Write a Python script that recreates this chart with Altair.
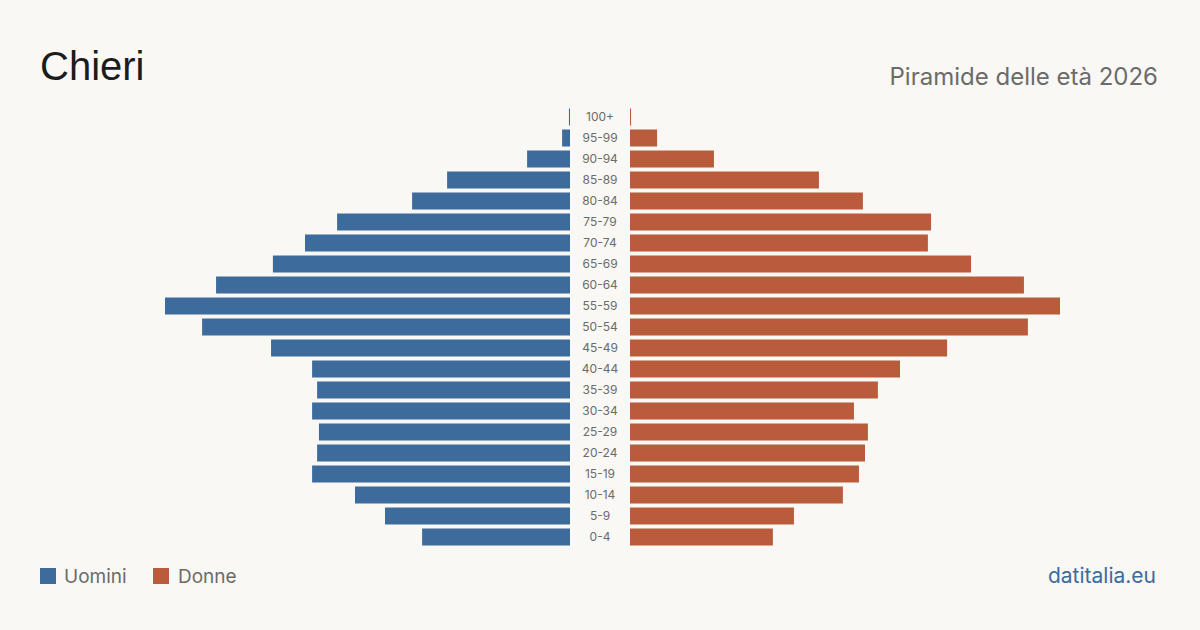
import altair as alt
import pandas as pd

# Age groups, oldest at the top
age_groups = ["100+", "95-99", "90-94", "85-89", "80-84", "75-79", "70-74",
              "65-69", "60-64", "55-59", "50-54", "45-49", "40-44", "35-39",
              "30-34", "25-29", "20-24", "15-19", "10-14", "5-9", "0-4"]

# Residents by age group, 2026
men = [4, 30, 163, 467, 600, 885, 1007, 1129, 1345, 1539, 1398, 1136,
       980, 961, 980, 954, 961, 980, 817, 703, 562]
women = [4, 103, 319, 718, 885, 1144, 1132, 1296, 1497, 1634, 1512, 1205,
         1026, 942, 851, 904, 893, 870, 809, 623, 543]

BLUE = "#3d6b9c"
ORANGE = "#b85c3c"
BG = "#f9f8f4"
FONT = "Inter"

df = pd.DataFrame({"age": age_groups, "men": men, "women": women})
df["men_neg"] = [-v for v in men]
df["zero"] = 0

D = 2280
x_scale = alt.Scale(domain=[-D, D], range=[0, 1200], nice=False, zero=False)
y_scale = alt.Scale(domain=age_groups, range=[106.5, 547.5], paddingInner=0.19, paddingOuter=0.095)

base = alt.Chart(df)

y_enc = alt.Y("age:N", scale=y_scale, axis=None, sort=age_groups)

left = base.mark_bar(color=BLUE, xOffset=-30, x2Offset=-30).encode(
    x=alt.X("men_neg:Q", scale=x_scale, axis=None),
    x2="zero:Q",
    y=y_enc,
)

right = base.mark_bar(color=ORANGE, xOffset=30, x2Offset=30).encode(
    x=alt.X("zero:Q", scale=x_scale, axis=None),
    x2="women:Q",
    y=y_enc,
)

labels = base.mark_text(font=FONT, fontSize=12, color="#6b6b6b", align="center", baseline="middle").encode(
    x=alt.X("zero:Q", scale=x_scale, axis=None),
    y=y_enc,
    text="age:N",
)

def label(text, x, y, size, color, align="left", font=FONT):
    return alt.Chart(pd.DataFrame({"t": [text]})).mark_text(
        font=font, fontSize=size, color=color, align=align, baseline="alphabetic"
    ).encode(x=alt.value(x), y=alt.value(y), text="t:N")

def swatch(x, y, color):
    return alt.Chart(pd.DataFrame({"a": [0]})).mark_square(size=256, color=color, opacity=1, filled=True).encode(
        x=alt.value(x), y=alt.value(y)
    )

title = label("Chieri", 40, 80, 40, "#1c1c1c", font="Liberation Sans")
subtitle = label("Piramide delle età 2026", 1158, 85, 24, "#6b6b6b", align="right")
leg1 = swatch(48, 576, BLUE)
leg1t = label("Uomini", 64, 583, 19, "#6b6b6b")
leg2 = swatch(161, 576, ORANGE)
leg2t = label("Donne", 178, 583, 19, "#6b6b6b")
source = label("datitalia.eu", 1156, 583, 21, BLUE, align="right")

chart = alt.layer(
    left, right, labels, title, subtitle, leg1, leg1t, leg2, leg2t, source
).properties(
    width=1200, height=630,
    autosize=alt.AutoSizeParams(type="none"),
    padding=0,
    background=BG,
).configure_view(stroke=None)

chart.save("out.html", embed_options={"renderer": "svg", "actions": False})
